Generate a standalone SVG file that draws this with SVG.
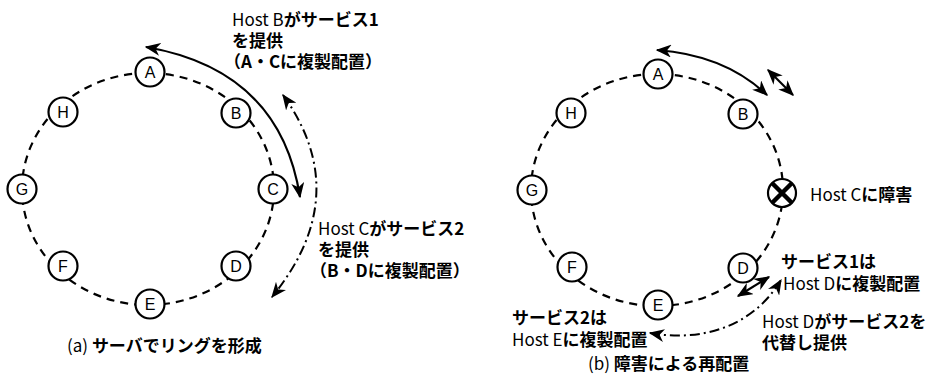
<svg xmlns="http://www.w3.org/2000/svg" width="928" height="376" viewBox="0 0 928 376">
<style>
.ring{fill:none;stroke:#000;stroke-width:2.2;stroke-dasharray:8 6}
.node circle{fill:#fff;stroke:#000;stroke-width:2.2}
.node text{font-family:"Liberation Sans",Arial,sans-serif;font-size:16px;text-anchor:middle;fill:#000}
.sol{fill:none;stroke:#000;stroke-width:2.2}
.dd{fill:none;stroke:#000;stroke-width:2;stroke-dasharray:10 4 2 4}
.t{font-family:"Noto Sans CJK JP","Liberation Sans",sans-serif;font-size:17px;fill:#000}
.j{font-weight:bold}
</style>
<defs>
<marker id="ah" viewBox="0 0 12 10" refX="11" refY="5" markerWidth="16" markerHeight="13" markerUnits="userSpaceOnUse" orient="auto-start-reverse">
<path d="M0,0 L12,5 L0,10 L3.5,5 z" fill="#000"/>
</marker>
</defs>
<rect width="928" height="376" fill="#fff"/>
<g id="rings">
<ellipse class="ring" cx="148" cy="189" rx="126" ry="116"/>
<ellipse class="ring" cx="657" cy="190" rx="126" ry="116"/>
</g>
<g id="connectors">
<path class="sol" d="M146,47 Q280,70 300,197" marker-start="url(#ah)" marker-end="url(#ah)"/>
<path class="dd" d="M283,95 Q355,195 272,297" marker-start="url(#ah)" marker-end="url(#ah)"/>
<path class="sol" d="M657,50 Q725,55 767,95" marker-start="url(#ah)" marker-end="url(#ah)"/>
<path class="sol" d="M768,70 L793,95" marker-start="url(#ah)" marker-end="url(#ah)"/>
<path class="sol" d="M738,296 L769,277" marker-start="url(#ah)" marker-end="url(#ah)"/>
<path class="dd" d="M650,333 C700,342 752,328 781,280" marker-start="url(#ah)" marker-end="url(#ah)"/>
</g>
<g id="nA" class="node"><circle cx="150" cy="72" r="14.5"/><text x="150" y="78">A</text></g>
<g id="nB" class="node"><circle cx="236" cy="113" r="14.5"/><text x="236" y="119">B</text></g>
<g id="nC" class="node"><circle cx="273" cy="189" r="14.5"/><text x="273" y="195">C</text></g>
<g id="nD" class="node"><circle cx="236" cy="266" r="14.5"/><text x="236" y="272">D</text></g>
<g id="nE" class="node"><circle cx="150" cy="304" r="14.5"/><text x="150" y="310">E</text></g>
<g id="nF" class="node"><circle cx="63" cy="266" r="14.5"/><text x="63" y="272">F</text></g>
<g id="nG" class="node"><circle cx="22" cy="189" r="14.5"/><text x="22" y="195">G</text></g>
<g id="nH" class="node"><circle cx="63" cy="112" r="14.5"/><text x="63" y="118">H</text></g>
<g id="rA" class="node"><circle cx="658" cy="74" r="14.5"/><text x="658" y="80">A</text></g>
<g id="rB" class="node"><circle cx="743" cy="114" r="14.5"/><text x="743" y="120">B</text></g>
<g id="rC" class="node"><circle cx="782" cy="193" r="14" stroke-width="2.8"/><path d="M772,183 L792,203 M792,183 L772,203" stroke="#000" stroke-width="4.5"/></g>
<g id="rD" class="node"><circle cx="743" cy="268" r="14.5"/><text x="743" y="274">D</text></g>
<g id="rE" class="node"><circle cx="658" cy="305" r="14.5"/><text x="658" y="311">E</text></g>
<g id="rF" class="node"><circle cx="572" cy="267" r="14.5"/><text x="572" y="273">F</text></g>
<g id="rG" class="node"><circle cx="532" cy="190" r="14.5"/><text x="532" y="196">G</text></g>
<g id="rH" class="node"><circle cx="571" cy="113" r="14.5"/><text x="571" y="119">H</text></g>
<g id="labels">
<text class="t" x="232" y="26">Host B<tspan class="j">がサービス1</tspan></text>
<text class="t j" x="232" y="47">を提供</text>
<text class="t j" x="224" y="68">（A・Cに複製配置）</text>
<text class="t" x="318" y="235">Host C<tspan class="j">がサービス2</tspan></text>
<text class="t j" x="318" y="256">を提供</text>
<text class="t j" x="310" y="277">（B・Dに複製配置）</text>
<text class="t" x="67" y="352">(a) <tspan class="j">サーバでリングを形成</tspan></text>
<text class="t" x="810" y="201">Host C<tspan class="j">に障害</tspan></text>
<text class="t j" x="781" y="268">サービス1は</text>
<text class="t" x="783" y="290">Host D<tspan class="j">に複製配置</tspan></text>
<text class="t" x="762" y="328">Host D<tspan class="j">がサービス2を</tspan></text>
<text class="t j" x="762" y="349">代替し提供</text>
<text class="t j" x="512" y="324">サービス2は</text>
<text class="t" x="512" y="346">Host E<tspan class="j">に複製配置</tspan></text>
<text class="t" x="588" y="370">(b) <tspan class="j">障害による再配置</tspan></text>
</g>
</svg>
